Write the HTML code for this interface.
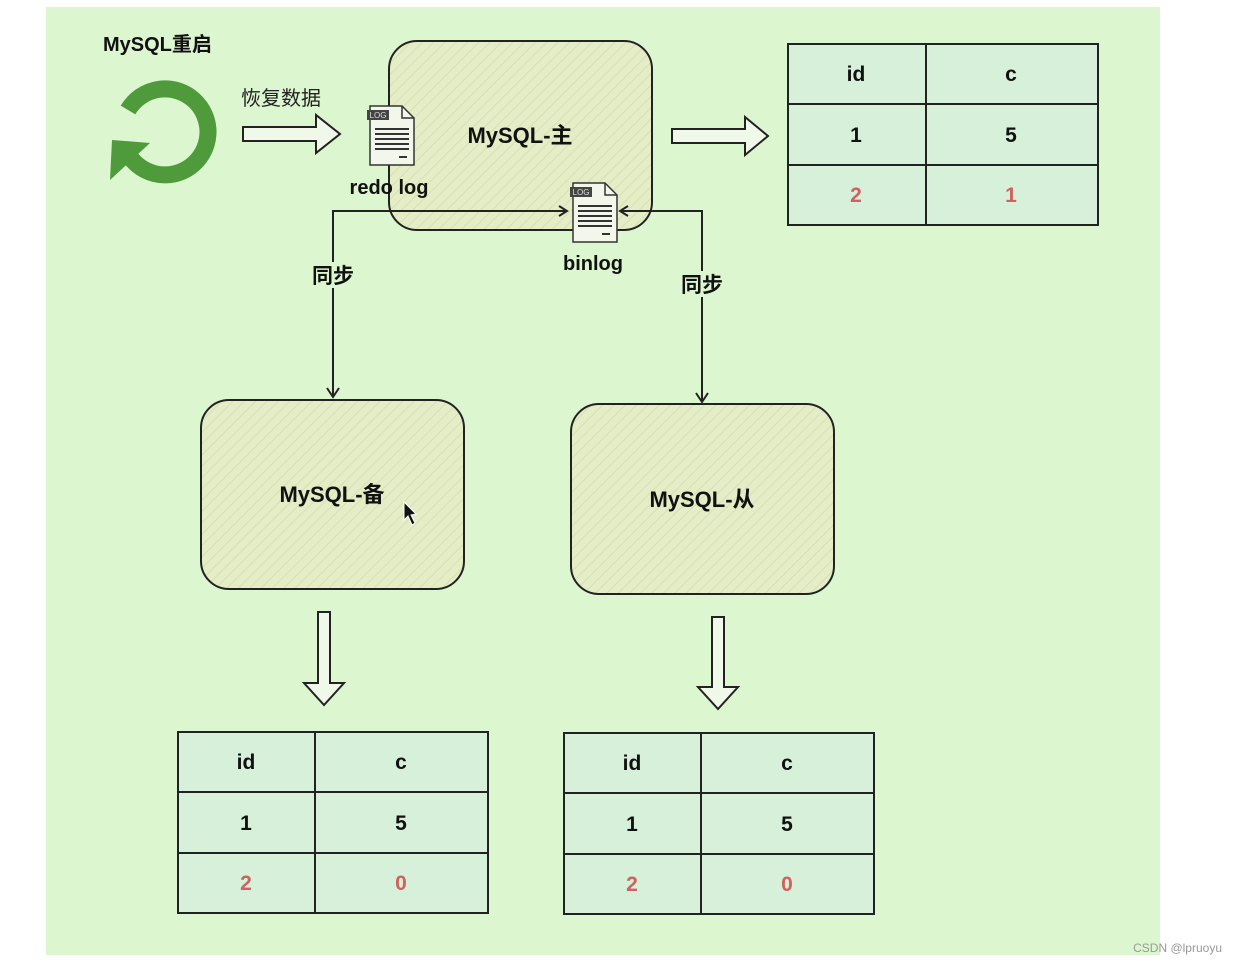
<!DOCTYPE html>
<html><head><meta charset="utf-8"><style>
body{margin:0;background:#fff;}
svg{display:block;}
text{font-family:"Liberation Sans","Noto Sans CJK SC",sans-serif;}
</style></head><body>
<svg width="1237" height="965" viewBox="0 0 1237 965" xmlns="http://www.w3.org/2000/svg">
<defs>
<pattern id="h" width="8" height="8" patternUnits="userSpaceOnUse" patternTransform="rotate(45)">
<rect width="8" height="8" fill="#e4edc6"/><line x1="0" y1="0" x2="0" y2="8" stroke="#d6e0b4" stroke-width="2"/>
</pattern>
</defs>
<rect x="46" y="7" width="1114" height="948" fill="#dcf6d0"/>
<text x="103" y="51" font-size="20" font-weight="bold" fill="#111">MySQL重启</text>
<path d="M 126 150 A 43 43 0 1 0 128 110" fill="none" stroke="#4f9a3b" stroke-width="17"/>
<polygon points="110,180 112,140 150,143" fill="#4f9a3b"/>
<text x="241" y="105" font-size="20" fill="#222">恢复数据</text>
<polygon points="243,127 316,127 316,115 340,134 316,153 316,141 243,141" fill="#f0f8ea" stroke="#222" stroke-width="2"/>
<polygon points="672,129 745,129 745,117 768,136 745,155 745,143 672,143" fill="#f0f8ea" stroke="#222" stroke-width="2"/>
<polygon points="318,612 330,612 330,683 344,683 324,705 304,683 318,683" fill="#f0f8ea" stroke="#222" stroke-width="2"/>
<polygon points="712,617 724,617 724,687 738,687 718,709 698,687 712,687" fill="#f0f8ea" stroke="#222" stroke-width="2"/>
<rect x="389" y="41" width="263" height="189" rx="28" fill="url(#h)" stroke="#222" stroke-width="2"/>
<text x="520" y="143" font-size="22" font-weight="bold" text-anchor="middle" fill="#111">MySQL-主</text>
<rect x="201" y="400" width="263" height="189" rx="28" fill="url(#h)" stroke="#222" stroke-width="2"/>
<text x="332" y="502" font-size="22" font-weight="bold" text-anchor="middle" fill="#111">MySQL-备</text>
<rect x="571" y="404" width="263" height="190" rx="28" fill="url(#h)" stroke="#222" stroke-width="2"/>
<text x="702" y="507" font-size="22" font-weight="bold" text-anchor="middle" fill="#111">MySQL-从</text>
<polygon points="404,502 404,520 408,516 412,525 415,523 411,515 416,514" fill="#111" stroke="#fff" stroke-width="1"/>
<polyline points="567,211 333,211 333,396" fill="none" stroke="#222" stroke-width="2"/>
<polyline points="327,388 333,397 339,388" fill="none" stroke="#222" stroke-width="2"/>
<polyline points="559,206 567,211 559,216" fill="none" stroke="#222" stroke-width="2"/>
<polyline points="620,211 702,211 702,401" fill="none" stroke="#222" stroke-width="2"/>
<polyline points="696,393 702,402 708,393" fill="none" stroke="#222" stroke-width="2"/>
<polyline points="628,206 620,211 628,216" fill="none" stroke="#222" stroke-width="2"/>
<rect x="310" y="262" width="46" height="26" fill="#dcf6d0"/>
<text x="333" y="283" font-size="21" font-weight="bold" text-anchor="middle" fill="#111">同步</text>
<rect x="679" y="271" width="46" height="26" fill="#dcf6d0"/>
<text x="702" y="292" font-size="21" font-weight="bold" text-anchor="middle" fill="#111">同步</text>
<g transform="translate(369,105)">
<path d="M1 1 H33 L45 13 V60 H1 Z" fill="#f3f6ea" stroke="#333" stroke-width="1.5"/>
<path d="M33 1 V13 H45" fill="none" stroke="#333" stroke-width="1.5"/>
<rect x="-2" y="5" width="22" height="10" fill="#444"/>
<text x="9" y="13" font-size="8" fill="#ddd" text-anchor="middle">LOG</text>
<g stroke="#333" stroke-width="2"><line x1="6" y1="24" x2="40" y2="24"/><line x1="6" y1="29" x2="40" y2="29"/><line x1="6" y1="34" x2="40" y2="34"/><line x1="6" y1="39" x2="40" y2="39"/><line x1="6" y1="44" x2="40" y2="44"/><line x1="30" y1="52" x2="38" y2="52"/></g>
</g>
<text x="389" y="194" font-size="20" font-weight="bold" text-anchor="middle" fill="#111">redo log</text>
<g transform="translate(572,182)">
<path d="M1 1 H33 L45 13 V60 H1 Z" fill="#f3f6ea" stroke="#333" stroke-width="1.5"/>
<path d="M33 1 V13 H45" fill="none" stroke="#333" stroke-width="1.5"/>
<rect x="-2" y="5" width="22" height="10" fill="#444"/>
<text x="9" y="13" font-size="8" fill="#ddd" text-anchor="middle">LOG</text>
<g stroke="#333" stroke-width="2"><line x1="6" y1="24" x2="40" y2="24"/><line x1="6" y1="29" x2="40" y2="29"/><line x1="6" y1="34" x2="40" y2="34"/><line x1="6" y1="39" x2="40" y2="39"/><line x1="6" y1="44" x2="40" y2="44"/><line x1="30" y1="52" x2="38" y2="52"/></g>
</g>
<text x="593" y="270" font-size="20" font-weight="bold" text-anchor="middle" fill="#111">binlog</text>
<g font-size="21" font-weight="bold" text-anchor="middle">
<rect x="788" y="44" width="310" height="181" fill="#d6f0d9" stroke="#222" stroke-width="2"/>
<path d="M926 44 V225 M788 104 H1098 M788 165 H1098" stroke="#222" stroke-width="2"/>
<text x="856" y="81" fill="#111">id</text><text x="1011" y="81" fill="#111">c</text>
<text x="856" y="142" fill="#111">1</text><text x="1011" y="142" fill="#111">5</text>
<text x="856" y="202" fill="#d0615e">2</text><text x="1011" y="202" fill="#d0615e">1</text>
<rect x="178" y="732" width="310" height="181" fill="#d6f0d9" stroke="#222" stroke-width="2"/>
<path d="M315 732 V913 M178 792 H488 M178 853 H488" stroke="#222" stroke-width="2"/>
<text x="246" y="769" fill="#111">id</text><text x="401" y="769" fill="#111">c</text>
<text x="246" y="830" fill="#111">1</text><text x="401" y="830" fill="#111">5</text>
<text x="246" y="890" fill="#d0615e">2</text><text x="401" y="890" fill="#d0615e">0</text>
<rect x="564" y="733" width="310" height="181" fill="#d6f0d9" stroke="#222" stroke-width="2"/>
<path d="M701 733 V914 M564 793 H874 M564 854 H874" stroke="#222" stroke-width="2"/>
<text x="632" y="770" fill="#111">id</text><text x="787" y="770" fill="#111">c</text>
<text x="632" y="831" fill="#111">1</text><text x="787" y="831" fill="#111">5</text>
<text x="632" y="891" fill="#d0615e">2</text><text x="787" y="891" fill="#d0615e">0</text>
</g>
<text x="1222" y="952" font-size="12" text-anchor="end" fill="#999">CSDN @lpruoyu</text>
</svg>
</body></html>
